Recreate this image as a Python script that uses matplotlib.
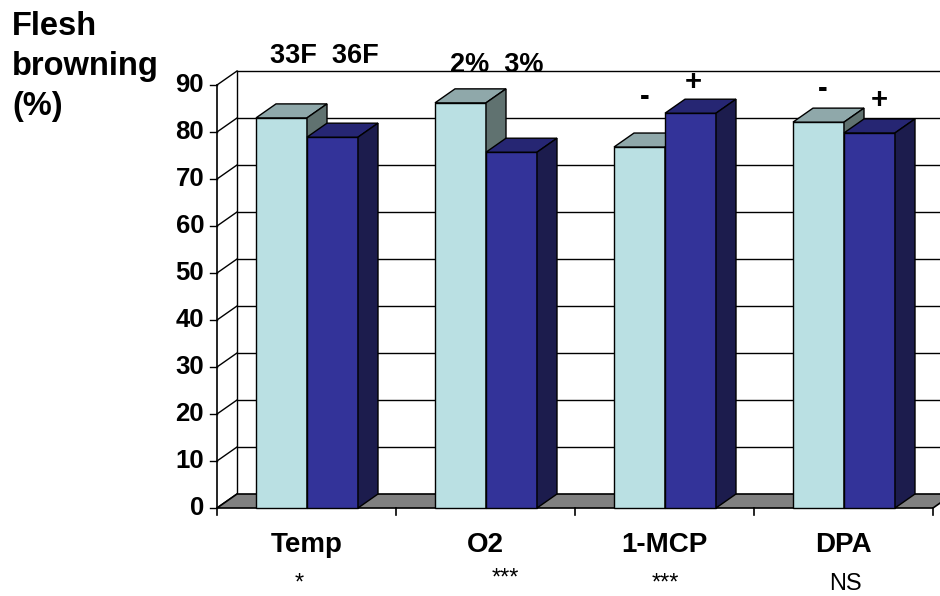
import matplotlib.pyplot as plt
from matplotlib.patches import Polygon

plt.rcParams['font.family'] = ['Liberation Sans', 'DejaVu Sans']

categories = ['Temp', 'O2', '1-MCP', 'DPA']
low_vals = [83.0, 86.2, 76.8, 82.1]
high_vals = [78.9, 75.7, 84.0, 79.8]
signif = ['*', '***', '***', 'NS']
yticks = list(range(0, 100, 10))

# pixel-like mapping: x = category units (179 px each), y = value units (4.7 px each)
X0, XS = 217, 179.0
Y0, YS = 508, 4.7
dx, dy = 20 / XS, 14 / YS
bw = 51 / XS
gap = 39 / XS

fig = plt.figure(figsize=(9.4, 5.96), dpi=100)
ax = fig.add_axes([0, 0, 1, 1])
ax.set_xlim(-X0 / XS, (940 - X0) / XS)
ax.set_ylim(-(596 - Y0) / YS, Y0 / YS)
ax.axis('off')


def px(x):
    return (x - X0) / XS


def py(y):
    return (Y0 - y) / YS


n = len(categories)
ymax = yticks[-1]

# floor
ax.add_patch(Polygon([(0, 0), (n, 0), (n + dx, dy), (dx, dy)], closed=True,
                     facecolor='#808080', edgecolor='black', lw=1.2, zorder=1))
# back wall gridlines and left wall diagonals
for v in yticks:
    if v > 0:
        ax.plot([dx, n + dx], [v + dy, v + dy], color='black', lw=1, zorder=0.5)
    ax.plot([0, dx], [v, v + dy], color='black', lw=1, zorder=0.5)
    ax.plot([-7 / XS, 0], [v, v], color='black', lw=1, zorder=0.5)
    ax.text(px(204), v, str(v), ha='right', va='center', fontsize=18.5,
            fontweight='bold')
ax.plot([dx, dx], [dy, ymax + dy], color='black', lw=1, zorder=0.5)
ax.plot([0, 0], [0, ymax], color='black', lw=1.2, zorder=0.5)
# category ticks on the front edge
for i in range(n + 1):
    ax.plot([i, i], [0, -7 / YS], color='black', lw=1.2, zorder=1)


def box(x, w, h, front, top, side):
    ax.add_patch(Polygon([(x, 0), (x + w, 0), (x + w, h), (x, h)], closed=True,
                         facecolor=front, edgecolor='black', lw=1, zorder=2))
    ax.add_patch(Polygon([(x, h), (x + w, h), (x + w + dx, h + dy), (x + dx, h + dy)],
                         closed=True, facecolor=top, edgecolor='black', lw=1, zorder=2))
    ax.add_patch(Polygon([(x + w, 0), (x + w + dx, dy), (x + w + dx, h + dy), (x + w, h)],
                         closed=True, facecolor=side, edgecolor='black', lw=1, zorder=2))


for i in range(n):
    box(i + gap, bw, low_vals[i], '#BAE0E3', '#8FA8AA', '#607270')
    box(i + gap + bw, bw, high_vals[i], '#333399', '#262673', '#1C1C4D')
    ax.text(i + 0.5, py(552), categories[i], ha='center', va='baseline',
            fontsize=20, fontweight='bold')

sig_x = [299, 505, 665, 845]
sig_bottom = [595, 590, 595, 595]
for s, x, y in zip(signif, sig_x, sig_bottom):
    ax.text(px(x), py(y), s, ha='center', va='bottom', fontsize=17)

# treatment labels above bars
top_labels = [('33F  36F', 324, 63), ('2%  3%', 497, 72)]
for s, x, y in top_labels:
    ax.text(px(x), py(y), s, ha='center', va='baseline', fontsize=19.5,
            fontweight='bold')
sign_labels = [('-', 645, 97), ('+', 693, 82), ('-', 823, 89), ('+', 879, 100)]
for s, x, y in sign_labels:
    ax.text(px(x), py(y), s, ha='center', va='center', fontsize=21,
            fontweight='bold')

fig.text(12 / 940, 1 - 11 / 596, 'Flesh\nbrowning\n(%)', ha='left', va='top',
         fontsize=23.5, fontweight='bold', linespacing=1.38)

fig.savefig('out.png', dpi=100)
